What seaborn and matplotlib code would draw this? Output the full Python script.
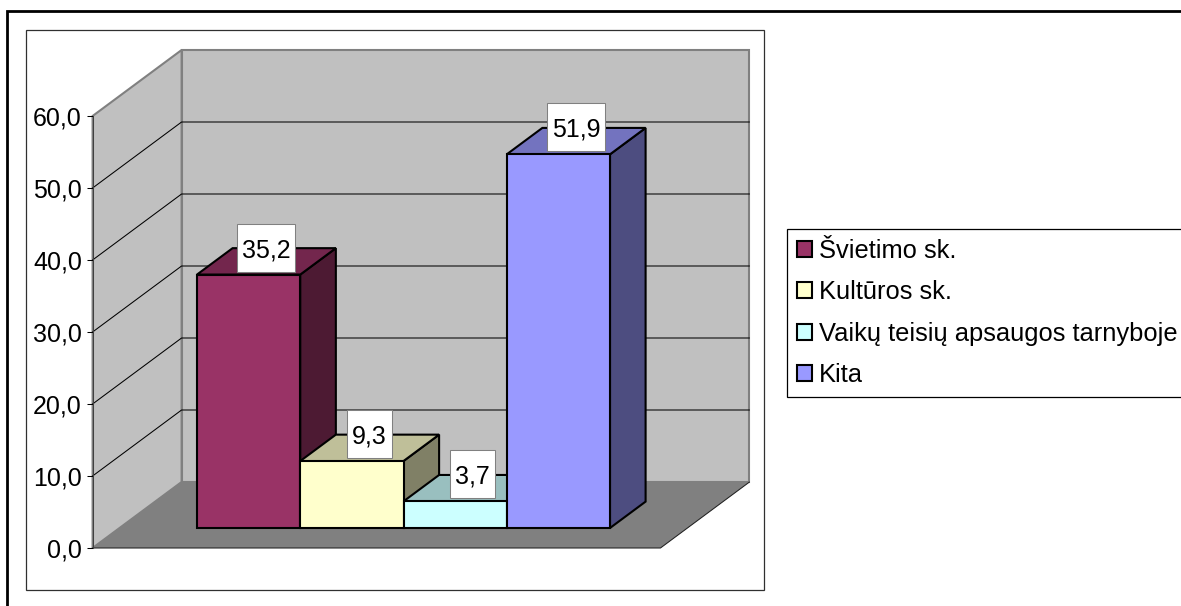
# 3D style column chart, drawn on a flat axes with a depth projection
import pandas as pd
import matplotlib.pyplot as plt
import matplotlib.colors as mcolors
from matplotlib.lines import Line2D
from matplotlib.patches import Polygon, Rectangle
from matplotlib.ticker import FuncFormatter, MultipleLocator
import seaborn as sns

# the values
categories = ['Švietimo sk.', 'Kultūros sk.', 'Vaikų teisių apsaugos tarnyboje', 'Kita']
values = [35.2, 9.3, 3.7, 51.9]
bar_colors = ['#993366', '#FFFFCC', '#CCFFFF', '#9999FF']
y_ticks_max = 60
y_tick_step = 10

W, H = 1181, 606
FONT_SIZE = 18
LEGEND_FONT_SIZE = 18.4

sns.set_theme(style='white')
plt.rcParams['font.family'] = ['Liberation Sans', 'DejaVu Sans']

fig = plt.figure(figsize=(W / 100, H / 100), dpi=100, facecolor='white')

# main axes fills the figure, data coords are the plane of the bars
ax = fig.add_axes([0, 0, 1, 1])
df = pd.DataFrame({'group': [''] * len(values), 'category': categories, 'value': values})
sns.barplot(data=df, x='group', y='value', hue='category', hue_order=categories,
            palette=dict(zip(categories, bar_colors)), width=0.8, gap=0, saturation=1,
            edgecolor='black', linewidth=1.5, zorder=5, ax=ax)

PX_X = 516.25  # pixels per x unit
PX_Y = 7.2     # pixels per value unit
ax.set_xlim(-403.5 / PX_X, (W - 403.5) / PX_X)
ax.set_ylim(-(H - 528) / PX_Y, 528 / PX_Y)
ax.axis('off')

# depth of the whole box in data units
DX = 89 / PX_X
DY = 66 / PX_Y
BAR_PLANE = 20 / 66
BAR_DEPTH = 0.4
X0, X1 = -0.55, 0.55


def proj(x, y, d):
    return x + (d - BAR_PLANE) * DX, y + (d - BAR_PLANE) * DY


def shade(color, k):
    return tuple(c * k for c in mcolors.to_rgb(color))


# walls and floor
wall = '#C0C0C0'
edge = '#808080'
ax.add_patch(Polygon([proj(X0, 0, 1), proj(X1, 0, 1), proj(X1, y_ticks_max, 1), proj(X0, y_ticks_max, 1)],
                     fc=wall, ec=edge, lw=1.5, zorder=1))
ax.add_patch(Polygon([proj(X0, 0, 0), proj(X0, 0, 1), proj(X0, y_ticks_max, 1), proj(X0, y_ticks_max, 0)],
                     fc=wall, ec=edge, lw=1.5, zorder=1))

# gridlines on back and side wall
for t in range(y_tick_step, y_ticks_max, y_tick_step):
    pts = [proj(X0, t, 0), proj(X0, t, 1), proj(X1, t, 1)]
    ax.plot([p[0] for p in pts], [p[1] for p in pts], color='black', lw=0.75, zorder=2)

ax.add_patch(Polygon([proj(X0, 0, 0), proj(X1, 0, 0), proj(X1, 0, 1), proj(X0, 0, 1)],
                     fc='#808080', ec='none', zorder=3))
pts = [proj(X0, 0, 0), proj(X1, 0, 0), proj(X1, 0, 1)]
ax.plot([p[0] for p in pts], [p[1] for p in pts], color='#202020', lw=0.75, zorder=3)

# top and side faces of the bars, taken from the seaborn bars
for i, cont in enumerate(ax.containers):
    bar = cont[0]
    x0, x1, top = bar.get_x(), bar.get_x() + bar.get_width(), bar.get_height()
    ddx, ddy = BAR_DEPTH * DX, BAR_DEPTH * DY
    z = 4 + i * 0.1
    ax.add_patch(Polygon([(x1, 0), (x1 + ddx, ddy), (x1 + ddx, top + ddy), (x1, top)],
                         fc=shade(bar_colors[i], 0.5), ec='black', lw=1.5, zorder=z))
    ax.add_patch(Polygon([(x0, top), (x1, top), (x1 + ddx, top + ddy), (x0 + ddx, top + ddy)],
                         fc=shade(bar_colors[i], 0.75), ec='black', lw=1.5, zorder=z))

# value labels in white boxes
fig.canvas.draw()
renderer = fig.canvas.get_renderer()
for i, cont in enumerate(ax.containers):
    bar = cont[0]
    cx = bar.get_x() + bar.get_width() / 2 + 17.5 / PX_X
    cy = bar.get_height() + 27 / PX_Y
    label = ax.text(cx, cy, f'{values[i]:.1f}'.replace('.', ','), ha='center', va='center_baseline',
                    fontsize=FONT_SIZE, color='black', zorder=7)
    bb = label.get_window_extent(renderer)
    bw = (bb.width + 10) / PX_X
    bh = 48 / PX_Y
    ax.add_patch(Rectangle((cx - bw / 2, cy - bh / 2), bw, bh, fc='white', ec='#808080', lw=0.75, zorder=6))

# legend, runs off the right side like in the original
handles, labels = ax.get_legend_handles_labels()
ax.legend(handles, labels, loc='upper left', bbox_to_anchor=(787 / W, 1 - 229 / H),
          bbox_transform=fig.transFigure, borderaxespad=0, fontsize=LEGEND_FONT_SIZE, frameon=True,
          fancybox=False, framealpha=1, edgecolor='black', handlelength=0.58, handleheight=0.58,
          handletextpad=0.27, labelspacing=0.68, borderpad=0.39, labelcolor='black').set_zorder(8)
ax.get_legend().get_frame().set_linewidth(0.9)

# value axis on the front edge of the side wall
ax_y = fig.add_axes([93 / W, 1 - 548 / H, 0.001, 432 / H], facecolor='none')
ax_y.set_ylim(0, y_ticks_max)
ax_y.yaxis.set_major_locator(MultipleLocator(y_tick_step))
ax_y.yaxis.set_major_formatter(FuncFormatter(lambda v, _: f'{v:.1f}'.replace('.', ',')))
ax_y.set_xticks([])
ax_y.tick_params(axis='y', left=True, length=4.5, width=0.75, color='black', pad=3.5, labelsize=FONT_SIZE,
                 labelcolor='black')
sns.despine(ax=ax_y, top=True, right=True, bottom=True)
ax_y.spines['left'].set_color('#404040')
ax_y.spines['left'].set_linewidth(0.75)

# chart frame and the thick page frame
fig.add_artist(Rectangle((26 / W, 1 - 590 / H), (764 - 26) / W, (590 - 30) / H, transform=fig.transFigure,
                         fc='none', ec='#303030', lw=0.9))
fig.add_artist(Line2D([7 / W, 7 / W, 1], [0, 1 - 11 / H, 1 - 11 / H], transform=fig.transFigure,
                      color='black', lw=2, solid_joinstyle='miter'))

fig.savefig('out.png', dpi=100)
